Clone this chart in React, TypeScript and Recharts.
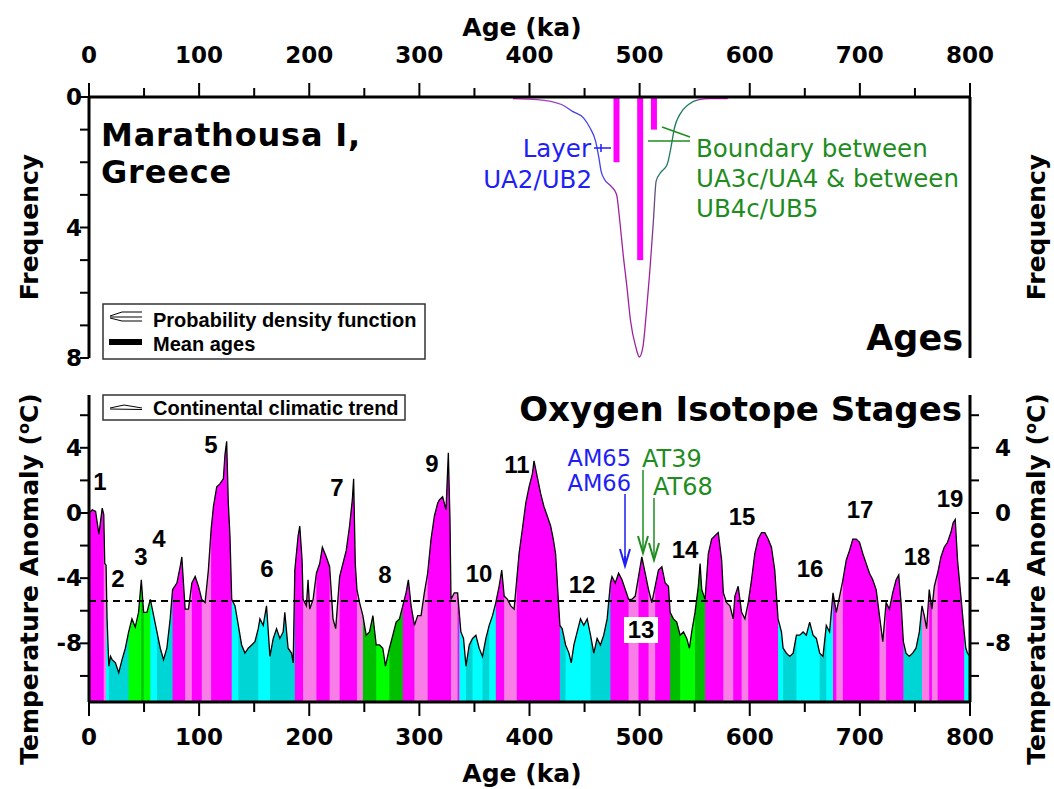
import React from 'react';
import { ComposedChart, Area, Line, Bar, XAxis, YAxis, ReferenceLine } from 'recharts';

// ---- top panel: ages (probability density + mean ages)
const pdfAges = [385, 407, 429, 439, 449, 455, 460, 463, 465, 468, 474, 479, 482, 485, 488.5, 491.7, 496.5, 499.7, 503, 506, 509.3, 512.5, 515, 519, 525, 528.4, 531.6, 536.4, 544.4, 554, 564, 580];
const pdfFreq = [0.05, 0.08, 0.23, 0.44, 0.64, 0.95, 1.35, 1.86, 2.27, 2.52, 2.73, 2.98, 3.8, 4.81, 5.83, 6.85, 7.66, 7.97, 7.66, 6.65, 5.32, 3.8, 2.58, 2.32, 2.07, 1.56, 0.95, 0.54, 0.23, 0.08, 0.05, 0.05];
const meanAges = [479, 500.5, 513];
const meanFreq = [2, 5, 1];

// ---- bottom panel: continental climatic trend (temperature anomaly, oC)
const tempAges = [
  0, 3, 6, 9, 12, 13.4, 14.3, 15.5, 16.4, 18, 19.5, 21, 24, 27, 30, 33, 36, 39, 42, 45, 47.5, 49.6, 52.6, 55.7, 58.7,
  61.7, 64.7, 67.7, 70.7, 73.7, 75.9, 79.8, 82.8, 84.3, 87.3, 90.3, 93.4, 96.4, 99.4, 102.4, 105.4, 108.4, 110.9,
  113, 116, 119, 122, 123.5, 125, 126.5, 128, 129.6, 132.6, 135.6, 138.6, 141.6, 144.6, 147.7, 150.7, 153.7,
  155.2, 158.2, 161.2, 164.3, 167.3, 170.3, 173.3, 176.3, 177.8, 180.8, 183.9, 185.4, 186.9, 189.9, 191.4, 193.5,
  194.4, 197.4, 198.9, 200.4, 203.5, 206.5, 209.5, 211.9, 215.5, 218.5, 221.6, 224, 227.6, 230.6, 233.6, 236.6,
  239.1, 240.3, 241.8, 243.3, 245.7, 248.7, 251.7, 254.7, 257.8, 260.8, 263.8, 266.8, 269.2, 272.8, 275.9, 278.9,
  281.9, 284.9, 287.9, 290, 292.5, 295.5, 298.5, 301.5, 304.5, 307.5, 310.6, 313.6, 316.6, 318.1, 321.1, 324.2,
  326.3, 327.8, 328.7, 331.7, 334.7, 336.2, 337.7, 340.1, 342.3, 345.3, 348.3, 351.3, 354.3, 357.3, 360.4, 363.4,
  366.4, 369.4, 372.4, 374.8, 377, 380, 383, 386, 388.4, 390.5, 393.5, 396.6, 399.6, 402.6, 404.1, 407.1, 410.1,
  413.1, 416.2, 419.2, 421.6, 423.7, 425.8, 427.6, 429.7, 432.8, 435.8, 437.9, 440.3, 443.3, 446.3, 449.3, 452.4,
  455.4, 458.4, 461.4, 464.4, 467.4, 470.5, 473.5, 474.9, 477.9, 480.9, 484, 487, 490, 493, 496, 499, 502, 505.1,
  508.1, 511.1, 514.1, 517.1, 520.2, 523.2, 526.2, 527.7, 530.7, 533.7, 536.8, 539.8, 542.8, 545.2, 547.3, 550.3,
  553.3, 554.9, 556.4, 559.4, 562.4, 565.4, 568.4, 571.4, 574.5, 576, 579, 582, 585, 586.5, 589.5, 592.6, 595.6,
  598.6, 601.6, 604.6, 607.6, 610.7, 613.7, 616.7, 619.7, 622.7, 625.7, 628.8, 630.3, 633.3, 636.3, 639.4, 642.4,
  645.4, 648.4, 651.4, 654.4, 657.5, 660.5, 663.5, 666.5, 669.5, 672.5, 675.6, 678.6, 681.6, 684.6, 687.6, 690.6,
  693.6, 696.7, 699.7, 702.7, 705.7, 708.7, 711.7, 714.8, 717.8, 720.8, 723.8, 726.8, 729.8, 732.9, 735.3, 737.4,
  739.5, 741.9, 744.9, 747.9, 751, 754, 756.4, 758.5, 760.6, 763, 765.4, 767.6, 770.6, 773.6, 776.6, 779.6, 782.6,
  784.7, 786.6, 788.7, 791.7, 794.7, 796.2, 797.7, 800,
];
const tempValues = [
  0, 0.2, 0.1, -1.3, 0.3, -0.1, -3.1, -3.2, -6.5, -9.4, -8.8, -9, -9.2, -9.8, -9, -8.3, -7.3, -6.5, -7, -6.1, -4.1, -6.1, -6.1, -5.3, -6.3,
  -7.3, -8.3, -9, -8.3, -6.5, -4.7, -4.3, -3.3, -2.7, -5.9, -5.9, -4.3, -3.9, -4.5, -5.3, -5.5, -3.5, -1,
  0.4, 1.6, 1.8, 2.1, 3.6, 4.4, 0.6, -1.4, -5.3, -5.7, -6.9, -8.1, -8.6, -8.3, -8.1, -7.9, -7.1,
  -6.5, -6.9, -5.7, -8.8, -7.7, -7.1, -7.7, -7.3, -6.1, -8.3, -8.6, -9.2, -3.5, -1.4, -0.8, -2.9,
  -5.3, -5.7, -4.1, -5.9, -5.3, -3.7, -3.1, -2.1, -2.7, -3.3, -6.5, -7.1, -3.9, -3.1, -2.3, -0.8,
  0.8, 2.1, -3.1, -4.7, -5.5, -6.3, -7.5, -7.3, -6.3, -8.1, -8.1, -8.3, -9.4, -8.3, -7.5, -6.7,
  -6.5, -5.7, -4.9, -4.1, -5.7, -6.9, -6.3, -6.3, -4.9, -3.7, -1.6, -0.2, 0.6, 0.8, 1, 0.2,
  3.7, -0.4, -5.3, -4.9, -4.9, -6.1, -7.3, -7.7, -9.4, -8.1, -7.7, -7.5, -8.3, -8.8, -7.7, -6.9,
  -6.3, -5.5, -4.5, -3.5, -5.1, -5.3, -5.7, -5.9, -4.1, -2.5, -1, 0.6, 1.6, 2.4, 3.2, 2.2, 1.2,
  0.4, -0.2, -0.8, -1.6, -2.5, -4.9, -6.9, -7.1, -8.1, -8.6, -9.2, -8.1, -7.3, -6.5, -6.9, -6.5,
  -7.5, -8.6, -7.7, -8.1, -7.5, -6.5, -4.3, -3.9, -4.3, -3.7, -4.1, -4.7, -5.3, -5.3, -5.1, -3.9, -2.7, -3.7,
  -4.7, -5.5, -4.5, -3.5, -3.3, -4.3, -4.5, -6.1, -6.5, -6.7, -7.5, -7.3, -7.7, -8.3, -7.3, -6.1,
  -4.5, -3.1, -4.7, -5.3, -2.5, -1.6, -1.4, -1.2, -2.9, -4.9, -5.5, -5.7, -6.5, -5.1, -4.5, -6.1, -6.5,
  -5.5, -4.1, -2.5, -1.6, -1.2, -1.2, -1.6, -2.1, -3.5, -6.5, -7.3, -8.3, -8.6, -8.8, -8.6, -7.5,
  -7.5, -7.3, -7.5, -6.7, -7.5, -7.7, -8.6, -8.8, -6.9, -7.3, -4.9, -6.1, -5.1, -4.1, -2.9, -2.3,
  -1.6, -1.6, -1.8, -2.5, -3.1, -3.7, -4.1, -4.7, -6.3, -7.9, -5.5, -5.9, -4.9, -4.1, -3.8, -5.5,
  -7.9, -8.6, -8.8, -8.6, -8.3, -7.3, -5.7, -6.3, -7.1, -4.7, -5.9, -4.5, -3.7, -2.7, -2.1, -1.8, -1.2,
  -0.6, -0.4, -2.9, -5.1, -7.3, -8.3, -8.6, -8.8,
];
const meanTrend = -5.4;

// ---- stage colour bands (start age + colour class)
const bandStarts = [
  0, 13.4, 15.5, 18, 34.5, 45.1, 49.6, 55.7, 61.7, 74.7, 86.4, 91.8, 102.4, 110, 129.6, 135.6, 152.2, 164,
  186.3, 194.4, 206.5, 218.5, 227, 242.7, 246.6, 259.3, 271.3, 284, 294, 305, 328.7, 332.3, 336.2, 340.8,
  346.8, 355.8, 361.9, 368.8, 377, 386.6, 426.7, 432.8, 455.4, 473, 490, 499, 508, 514, 527.7, 535.2, 550.3,
  559.4, 576, 585, 592.6, 598.6, 625.1, 629.4, 642.4, 663.5, 669.5, 675.6, 678.6, 683, 717.8, 723.2, 738.9,
  755.5, 762.4, 765.4, 768.5, 792.6,
];
const bandKinds = [
  'M', 'P', 'C', 'D', 'G', 'DG', 'G', 'C', 'D', 'M', 'P', 'M', 'P', 'M', 'C', 'D', 'C', 'D',
  'M', 'P', 'M', 'P', 'M', 'P', 'DG', 'G', 'DG', 'M', 'P', 'M', 'P', 'M', 'C', 'D',
  'C', 'D', 'C', 'M', 'P', 'M', 'D', 'C', 'D', 'M', 'P', 'M', 'P', 'M', 'DG', 'G', 'DG',
  'M', 'P', 'M', 'P', 'M', 'C', 'D', 'C', 'D', 'C', 'M', 'P', 'M', 'P', 'M', 'D',
  'P', 'M', 'P', 'M', 'C',
];
const BAND_COLORS: Record<string, string> = {
  M: '#FF00FF', P: '#F97DE6', C: '#00FFFF', D: '#00D5D5', G: '#00FF00', DG: '#00BE00',
};

// ---- axis ticks
const xTicks = [0, 50, 100, 150, 200, 250, 300, 350, 400, 450, 500, 550, 600, 650, 700, 750, 800];
const freqTicks = [0, 1, 2, 3, 4, 5, 6, 7, 8];
const freqLabels = [0, 4, 8];
const tempTicks = [6, 4, 2, 0, -2, -4, -6, -8, -10];
const tempLabels = [4, 0, -4, -8];

// ---- stage numbers
const stageNames = ['1', '2', '3', '4', '5', '6', '7', '8', '9', '10', '11', '12', '13', '14', '15', '16', '17', '18', '19'];
const stagePos: [number, number][] = [
  [100, 490], [118, 587], [141, 565], [159, 547], [211, 453], [267, 577], [337, 496], [385, 583], [432, 472],
  [479, 582], [517, 473], [582, 593], [641, 638], [685, 558], [742, 525], [810, 577], [860, 518], [917, 565], [950, 507],
];

// build tables
const topRows = [
  ...pdfAges.map((age, i) => ({ age, pdf: pdfFreq[i], mean: null as number | null })),
  ...meanAges.map((age, i) => ({ age, pdf: null as number | null, mean: meanFreq[i] })),
].sort((a, b) => a.age - b.age);

const bandOf = (age: number) => {
  let b = 0;
  bandStarts.forEach((s, k) => { if (s <= age) b = k; });
  return b;
};
const tempRows: Record<string, number | null>[] = tempAges.map((age, i) => {
  const r: Record<string, number | null> = { age, t: tempValues[i] };
  bandStarts.forEach((_, k) => { r[`b${k}`] = null; });
  return r;
});
const firstRow = bandStarts.map(() => -1);
tempRows.forEach((r, j) => {
  const b = bandOf(r.age as number);
  if (firstRow[b] < 0) firstRow[b] = j;
});
bandStarts.forEach((_, i) => {
  if (firstRow[i] < 0) return;
  let last = tempRows.length - 1;
  for (let k = i + 1; k < bandStarts.length; k++) {
    if (firstRow[k] >= 0) { last = Math.min(firstRow[k] + 1, tempRows.length - 1); break; }
  }
  for (let j = firstRow[i]; j <= last; j++) tempRows[j][`b${i}`] = tempRows[j].t;
});

const DV = "'DejaVu Sans', sans-serif";
const LIB = "'Liberation Sans', Arial, sans-serif";
const BLUE = '#1E1EF5';
const GREEN = '#1E8C1E';

// custom ticks (axis lines sit at y/x because tickSize and tickMargin are 0)
const TopXTick = (p: any) => {
  const v = p.payload.value;
  const major = v % 100 === 0;
  return (
    <g>
      <line x1={p.x} x2={p.x} y1={p.y} y2={p.y - (major ? 14 : 9)} stroke="#000" strokeWidth={2} />
      {major && (
        <text x={p.x} y={p.y - 34} textAnchor="middle" fontFamily={DV} fontWeight="bold" fontSize={23}>{v}</text>
      )}
    </g>
  );
};
const BottomXTick = (p: any) => {
  const v = p.payload.value;
  const major = v % 100 === 0;
  return (
    <g>
      <line x1={p.x} x2={p.x} y1={p.y} y2={p.y + (major ? 14 : 10)} stroke="#000" strokeWidth={2} />
      {major && (
        <text x={p.x} y={p.y + 43} textAnchor="middle" fontFamily={DV} fontWeight="bold" fontSize={23}>{v}</text>
      )}
    </g>
  );
};
const makeYTick = (side: 'left' | 'right', labels: number[]) => (p: any) => {
  const v = p.payload.value;
  const dir = side === 'left' ? -1 : 1;
  return (
    <g>
      <line x1={p.x} x2={p.x + dir * 9} y1={p.y} y2={p.y} stroke="#000" strokeWidth={2} />
      {labels.includes(v) && (
        <text x={side === 'left' ? p.x - 7 : p.x + 41} y={p.y + 8} textAnchor="end" fontFamily={DV} fontWeight="bold" fontSize={23}>{v}</text>
      )}
    </g>
  );
};

// mean-age bars: fixed 6px wide, centred on the bar's slot (height may be negative on a reversed axis)
const MeanBar = (p: any) => {
  const x = Number(p.x), y = Number(p.y), w = Number(p.width) || 0, h = Number(p.height);
  if (!isFinite(x) || !isFinite(y) || !isFinite(h) || h === 0) return <g />;
  const cx = x + w / 2;
  const top = Math.min(y, y + h);
  return <rect x={cx - 3} y={top} width={6} height={Math.abs(h)} fill="#FF00FF" />;
};

const axisLine = { stroke: '#000', strokeWidth: 3 };

const Overlay = () => (
  <svg width={1054} height={789} style={{ position: 'absolute', left: 0, top: 0, pointerEvents: 'none' }}>
    {/* axis titles */}
    <text x={522} y={36} textAnchor="middle" fontFamily={DV} fontWeight="bold" fontSize={25}>Age (ka)</text>
    <text x={522} y={782} textAnchor="middle" fontFamily={DV} fontWeight="bold" fontSize={25}>Age (ka)</text>
    <text transform="translate(38,227) rotate(-90)" textAnchor="middle" fontFamily={DV} fontWeight="bold" fontSize={25}>Frequency</text>
    <text transform="translate(1045,227) rotate(-90)" textAnchor="middle" fontFamily={DV} fontWeight="bold" fontSize={25}>Frequency</text>
    {[38, 1045].map((x) => (
      <text key={x} transform={`translate(${x},579) rotate(-90)`} textAnchor="middle" fontFamily={DV} fontWeight="bold" fontSize={25}>
        Temperature Anomaly (<tspan fontSize={16} dy={-9}>o</tspan><tspan dy={9}>C)</tspan>
      </text>
    ))}

    {/* top panel titles */}
    <text x={101} y={146} fontFamily={DV} fontWeight="bold" fontSize={32} letterSpacing={0.8}>
      <tspan x={101}>Marathousa I,</tspan>
      <tspan x={101} dy={37}>Greece</tspan>
    </text>
    <text x={963} y={350} textAnchor="end" fontFamily={DV} fontWeight="bold" fontSize={35}>Ages</text>

    {/* top annotations */}
    <text x={591} y={157} textAnchor="end" fontFamily={DV} fontSize={24.5} fill={BLUE}>
      <tspan x={591}>Layer</tspan>
      <tspan x={592} dy={31}>UA2/UB2</tspan>
    </text>
    <line x1={594} x2={611} y1={148} y2={148} stroke={BLUE} strokeWidth={1.5} />
    <line x1={601} x2={601} y1={144} y2={152} stroke={BLUE} strokeWidth={1.5} />
    <text x={696} y={157} fontFamily={DV} fontSize={24.5} fill={GREEN}>
      <tspan x={696}>Boundary between</tspan>
      <tspan x={696} dy={30}>UA3c/UA4 &amp; between</tspan>
      <tspan x={696} dy={30}>UB4c/UB5</tspan>
    </text>
    <line x1={662} y1={127} x2={690} y2={137} stroke={GREEN} strokeWidth={1.5} />
    <line x1={648} y1={141} x2={690} y2={141} stroke={GREEN} strokeWidth={1.5} />

    {/* top legend */}
    <rect x={103} y={304} width={322} height={55} fill="#fff" stroke="#333" strokeWidth={1.5} />
    <path d="M142,312 L122,312 L110,316 M110,317 L142,317 M110,318 L122,321 L142,321" fill="none" stroke="#000" strokeWidth={1} />
    <text x={153} y={327} fontFamily={LIB} fontWeight="bold" fontSize={20}>Probability density function</text>
    <rect x={109} y={339} width={33} height={6} fill="#000" />
    <text x={153} y={351} fontFamily={LIB} fontWeight="bold" fontSize={20}>Mean ages</text>

    {/* bottom legend + title */}
    <rect x={103} y={395} width={302} height={25} fill="#fff" stroke="#333" strokeWidth={1.5} />
    <path d="M110,408 L124,405 L142,408 M110,409 L142,409.5" fill="none" stroke="#000" strokeWidth={1} />
    <text x={153} y={415} fontFamily={LIB} fontWeight="bold" fontSize={20}>Continental climatic trend</text>
    <text x={962} y={421} textAnchor="end" fontFamily={DV} fontWeight="bold" fontSize={34}>Oxygen Isotope Stages</text>

    {/* sample annotations */}
    <text x={631} y={466} textAnchor="end" fontFamily={DV} fontSize={22.5} fill={BLUE}>
      <tspan x={631}>AM65</tspan>
      <tspan x={631} dy={25}>AM66</tspan>
    </text>
    <line x1={625} x2={625} y1={494} y2={566} stroke={BLUE} strokeWidth={1.5} />
    <path d="M620,549 L625,566 L630,549 M625,566 L625,556" fill="none" stroke={BLUE} strokeWidth={2} />
    <text x={642} y={467} fontFamily={DV} fontSize={24} fill={GREEN}>
      <tspan x={642}>AT39</tspan>
      <tspan x={653} dy={28}>AT68</tspan>
    </text>
    <line x1={643} x2={643} y1={470} y2={553} stroke={GREEN} strokeWidth={1.5} />
    <path d="M638,536 L643,553 L648,536" fill="none" stroke={GREEN} strokeWidth={2} />
    <line x1={654} x2={654} y1={498} y2={560} stroke={GREEN} strokeWidth={1.5} />
    <path d="M649,543 L654,560 L659,543" fill="none" stroke={GREEN} strokeWidth={2} />

    {/* stage numbers */}
    <rect x={624} y={617} width={34} height={26} fill="#fff" />
    {stageNames.map((s, i) => (
      <text key={s} x={stagePos[i][0]} y={stagePos[i][1]} textAnchor="middle" fontFamily={LIB} fontWeight="bold" fontSize={24}>{s}</text>
    ))}
  </svg>
);

export default function App() {
  return (
    <div style={{ position: 'absolute', left: 0, top: 0, width: 1054, height: 789, background: '#fff', overflow: 'hidden' }}>
      {/* Ages panel */}
      <div style={{ position: 'absolute', left: 0, top: 0 }}>
        <ComposedChart width={1054} height={370} data={topRows} margin={{ top: 67, right: 24, bottom: 12, left: 29 }}>
          <defs>
            <linearGradient id="pdfGrad" x1="0" y1="0" x2="1" y2="0">
              <stop offset="0" stopColor="#C020C0" />
              <stop offset="0.2" stopColor="#A040C0" />
              <stop offset="0.28" stopColor="#4040F0" />
              <stop offset="0.42" stopColor="#4040F0" />
              <stop offset="0.47" stopColor="#A020A0" />
              <stop offset="0.64" stopColor="#A020A0" />
              <stop offset="0.68" stopColor="#207A60" />
              <stop offset="0.84" stopColor="#207A60" />
              <stop offset="0.88" stopColor="#C020C0" />
              <stop offset="1" stopColor="#C020C0" />
            </linearGradient>
          </defs>
          <XAxis dataKey="age" type="number" orientation="top" domain={[0, 800]} ticks={xTicks} height={30}
            axisLine={axisLine} tickLine={false} tickSize={0} tickMargin={0} tick={TopXTick} interval={0} allowDataOverflow />
          <YAxis yAxisId="left" type="number" domain={[0, 8]} reversed ticks={freqTicks} width={60}
            axisLine={axisLine} tickLine={false} tickSize={0} tickMargin={0} tick={makeYTick('left', freqLabels)} interval={0} />
          <YAxis yAxisId="right" orientation="right" type="number" domain={[0, 8]} reversed ticks={freqTicks} width={60}
            axisLine={axisLine} tickLine={false} tickSize={0} tickMargin={0} tick={makeYTick('right', freqLabels)} interval={0} />
          <Bar yAxisId="left" dataKey="mean" fill="#FF00FF" shape={MeanBar} isAnimationActive={false} />
          <Line yAxisId="left" dataKey="pdf" type="monotone" stroke="url(#pdfGrad)" strokeWidth={1.3} dot={false} activeDot={false} connectNulls isAnimationActive={false} />
        </ComposedChart>
      </div>

      {/* Temperature panel */}
      <div style={{ position: 'absolute', left: 0, top: 380 }}>
        <ComposedChart width={1054} height={409} data={tempRows} margin={{ top: 15, right: 24, bottom: 27, left: 29 }}>
          <XAxis dataKey="age" type="number" domain={[0, 800]} ticks={xTicks} height={60}
            axisLine={axisLine} tickLine={false} tickSize={0} tickMargin={0} tick={BottomXTick} interval={0} allowDataOverflow />
          <YAxis yAxisId="left" type="number" domain={[-11.6, 7.24]} ticks={tempTicks} width={60} allowDataOverflow
            axisLine={axisLine} tickLine={false} tickSize={0} tickMargin={0} tick={makeYTick('left', tempLabels)} interval={0} />
          <YAxis yAxisId="right" orientation="right" type="number" domain={[-11.6, 7.24]} ticks={tempTicks} width={60} allowDataOverflow
            axisLine={axisLine} tickLine={false} tickSize={0} tickMargin={0} tick={makeYTick('right', tempLabels)} interval={0} />
          {bandKinds.map((k, i) => (
            <Area key={`band${i}`} yAxisId="left" dataKey={`b${i}`} type="linear" stroke="none" fill={BAND_COLORS[k]}
              fillOpacity={1} baseValue="dataMin" dot={false} activeDot={false} connectNulls={false} isAnimationActive={false} />
          ))}
          <Line yAxisId="left" dataKey="t" type="linear" stroke="#000" strokeWidth={1.3} dot={false} activeDot={false} isAnimationActive={false} />
          <ReferenceLine yAxisId="left" y={meanTrend} stroke="#000" strokeWidth={2} strokeDasharray="7 5" />
        </ComposedChart>
      </div>

      <Overlay />
    </div>
  );
}
